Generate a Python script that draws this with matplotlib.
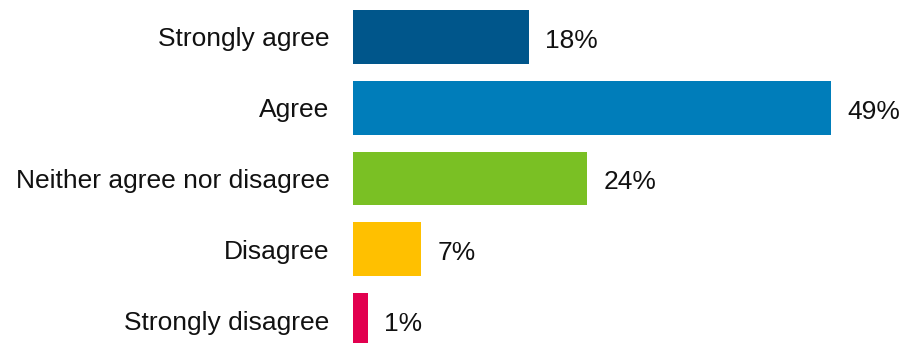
import matplotlib
matplotlib.use("Agg")
import matplotlib.pyplot as plt

categories = ["Strongly agree", "Agree", "Neither agree nor disagree",
              "Disagree", "Strongly disagree"]
values = [18, 49, 24, 7, 1.5]
labels = ["18%", "49%", "24%", "7%", "1%"]
colors = ["#00568B", "#007DBA", "#7AC024", "#FFC000", "#E2004F"]

plt.rcParams['font.family'] = ['Liberation Sans', 'DejaVu Sans']

fig = plt.figure(figsize=(9.01, 3.43), dpi=100)
ax = fig.add_axes([353 / 901, 0, 548 / 901, 1])

pos = list(range(len(categories)))
ax.barh(pos, values, height=0.76, color=colors)

for p, v, lab in zip(pos, values, labels):
    ax.annotate(lab, (v, p), xytext=(12, -1), textcoords='offset points',
                va='center_baseline', ha='left', fontsize=19, color='#111111')

ax.set_xlim(0, 548 / 9.75)
ax.set_ylim(4 + 23 / 71, -37 / 71)
ax.set_yticks(pos)
ax.set_yticklabels(categories, fontsize=19, color='#111111')
ax.tick_params(axis='y', length=0, pad=17)
ax.set_xticks([])
for s in ax.spines.values():
    s.set_visible(False)

fig.savefig("out.png", dpi=100)
